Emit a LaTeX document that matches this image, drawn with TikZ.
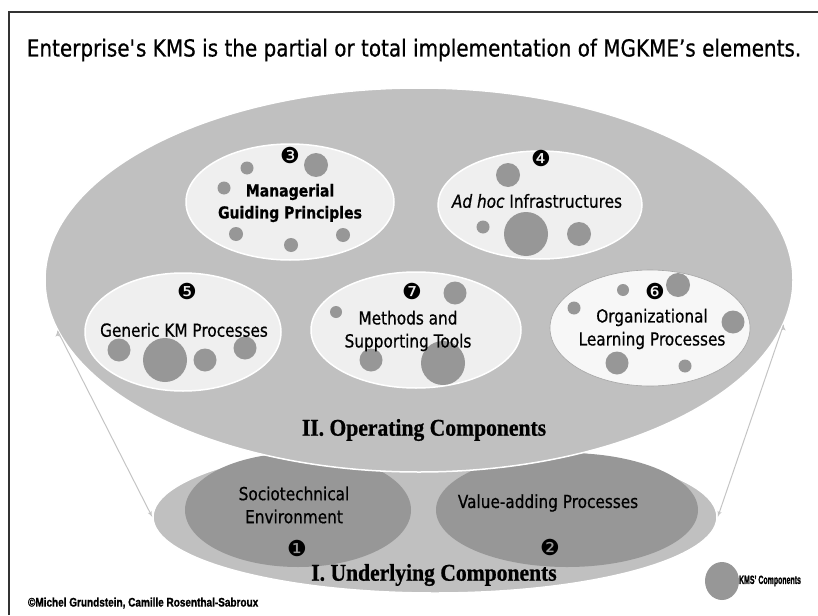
\documentclass[tikz,border=0pt]{standalone}
\usepackage{fontspec}
\usepackage{tikz}
\usetikzlibrary{arrows,positioning,shapes,calc}
\setmainfont{DejaVu Sans}
\newfontfamily\tahoma[FakeStretch=0.85,FakeBold=0.6]{DejaVu Sans}
\newfontfamily\heavyserif[FakeStretch=0.9,FakeBold=0.8]{Liberation Serif}
\newfontfamily\heavysans[FakeStretch=0.8,FakeBold=1]{Liberation Sans}
\newfontfamily\narrowsans[FakeStretch=0.58,FakeBold=1]{Liberation Sans}
\newfontfamily\dings{DejaVu Sans}
\definecolor{opgray}{HTML}{C0C0C0}
\definecolor{kmsgray}{HTML}{979797}
\definecolor{pale}{HTML}{EFEFEF}
\definecolor{arrowgray}{HTML}{C4C4C4}

\begin{document}
\begin{tikzpicture}[x=1pt, y=-1pt, >=latex', ultra thin,
  main ellipse/.style={ellipse,inner sep=0pt,draw=white,line width=1.5pt},
  sub ellipse/.style={main ellipse,fill=pale},
  kms dot/.style={circle,fill=kmsgray,inner sep=0pt},
  num/.style={font=\dings\fontsize{22}{22}\selectfont},
  lbl/.style={font=\tahoma\fontsize{18}{23}\selectfont,align=center},
  big lbl/.style={font=\heavyserif\bfseries\fontsize{24}{24}\selectfont}]
\useasboundingbox (0,0) rectangle (818,615);
\draw[line width=1.3pt,black!80] (9,615) -- (9,12) -- (818,12);
\node[font=\tahoma\fontsize{23.5}{23.5}\selectfont] (title) at (414,50) {Enterprise\textquotesingle s KMS is the partial or total implementation of MGKME’s elements.};
% underlying components
\node[main ellipse,fill=opgray,minimum width=564pt,minimum height=152pt] (ul) at (435,517) {};
\node[main ellipse,fill=kmsgray,draw=none,minimum width=226pt,minimum height=114pt] (socio) at (298,510) {};
\node[main ellipse,fill=kmsgray,draw=none,minimum width=262pt,minimum height=114pt] (value) at (567,510) {};
% operating components
\node[main ellipse,fill=opgray,minimum width=748pt,minimum height=384pt] (op) at (419,280) {};
\node[sub ellipse,minimum width=208pt,minimum height=116pt] (mgp) at (290,202) {};
\node[sub ellipse,minimum width=204pt,minimum height=108pt] (adhoc) at (540,205) {};
\node[sub ellipse,minimum width=196pt,minimum height=118pt] (gkp) at (183,332) {};
\node[sub ellipse,minimum width=210pt,minimum height=116pt] (mst) at (416,330) {};
\node[sub ellipse,fill=white!97!black,draw=black!35,line width=.6pt,minimum width=200pt,minimum height=116pt] (olp) at (650,328) {};
\foreach \px/\py/\d [count=\i] in {316/165/24, 247/168/13, 224/188/13, 236/234/14, 291/245/14, 343/235/14,
  508/175/24, 483/227/13, 526/234/44, 579/234/24,
  119/350/23, 165/360/44, 205/360/23, 245/348/23,
  336/312/12, 455/293/23, 371/360/23, 443/363/44,
  623/290/12, 678/285/24, 574/308/13, 733/322/23, 617/363/23, 685/366/13}
  \node[kms dot,minimum size=\d pt] (dot\i) at (\px,\py) {};
\begin{scope}[every node/.style={lbl}]
\node[font=\tahoma\bfseries\fontsize{16.5}{22}\selectfont] (mgp-t) at (290,203) {Managerial\\Guiding Principles};
\node (adhoc-t) at (537,201) {\textit{Ad hoc} Infrastructures};
\node (gkp-t) at (184,330) {Generic KM Processes};
\node (mst-t) at (408,331) {Methods and\\Supporting Tools};
\node (olp-t) at (652,329) {Organizational\\Learning Processes};
\node (socio-t) at (294,505) {Sociotechnical\\Environment};
\node (value-t) at (548,503) {Value-adding Processes};
\end{scope}
\begin{scope}[every node/.style={num}]
\node (n3) at (290,155) {❸};
\node (n4) at (541,158) {❹};
\node (n5) at (187,291) {❺};
\node (n7) at (412,291) {❼};
\node (n6) at (655,291) {❻};
\node (n1) at (297,548) {❶};
\node (n2) at (550,547) {❷};
\end{scope}
\node[big lbl] (op-t) at (424,430) {II. Operating Components};
\node[big lbl] (ul-t) at (434,575) {I. Underlying Components};
% legend
\node[kms dot,minimum width=34pt,minimum height=38pt,ellipse] (legend) at (722,581) {};
\node[font=\narrowsans\bfseries\fontsize{12}{12}\selectfont,anchor=west,inner sep=1pt] (legend-t) at (738,581) {KMS’ Components};
\node[font=\heavysans\bfseries\fontsize{12.5}{12.5}\selectfont,anchor=west,inner sep=1pt] (copy) at (27,603) {©Michel Grundstein, Camille Rosenthal-Sabroux};
% links
\draw[arrowgray,line width=1pt,->] (op.188) edge (ul.west);
\draw[arrowgray,line width=1pt,->] (op.-7) edge (ul.east);
\end{tikzpicture}
\end{document}
